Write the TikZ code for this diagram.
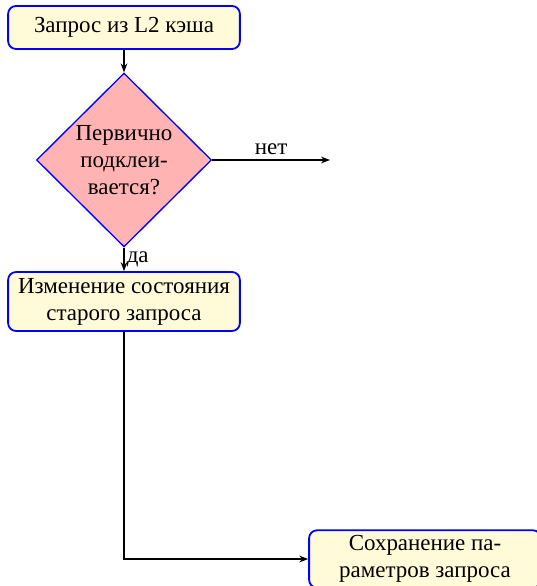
\documentclass[tikz,border=0pt]{standalone}
\usepackage{fontspec}
\setmainfont{Liberation Serif}
\usetikzlibrary{shapes.geometric,arrows.meta}
\definecolor{boxfill}{RGB}{255,250,215}
\definecolor{diafill}{RGB}{255,179,179}
\begin{document}
\begin{tikzpicture}[x=0.4444pt,y=-0.4444pt,
  font=\rmfamily\fontsize{10.2}{12}\selectfont,
  proc/.style={draw=blue, line width=0.8pt, fill=boxfill, rounded corners=3.5pt,
    minimum width=103pt, align=center, inner sep=2pt},
  decision/.style={diamond, draw=blue, line width=0.6pt, fill=diafill,
    minimum width=77.8pt, minimum height=77.3pt, inner sep=0pt, align=center},
  conn/.style={-{Stealth[length=4pt,width=3pt]}, line width=0.5pt}]
\useasboundingbox (0,0) rectangle (536,586);
\node[proc, minimum height=19.1pt] (b1) at (124,27.5) {Запрос из L2 кэша};
\node[decision] (d) at (124,160) {Первично\\подклеи-\\вается?};
\node[proc, minimum height=26.2pt] (b3) at (124,301.5) {Изменение состояния\\старого запроса};
\node[proc, minimum height=25.5pt] (b4) at (425,559) {Сохранение па-\\раметров запроса};
\coordinate (no) at (330,160);
\draw[conn] (b1.south) -- (d.north);
\draw[conn] (d.east) -- node[above, inner sep=2pt] {нет} (no);
\draw[conn] (d.south) -- node[right, inner sep=1pt] {да} (b3.north);
\draw[conn] (b3.south) |- (b4.west);
\end{tikzpicture}
\end{document}
